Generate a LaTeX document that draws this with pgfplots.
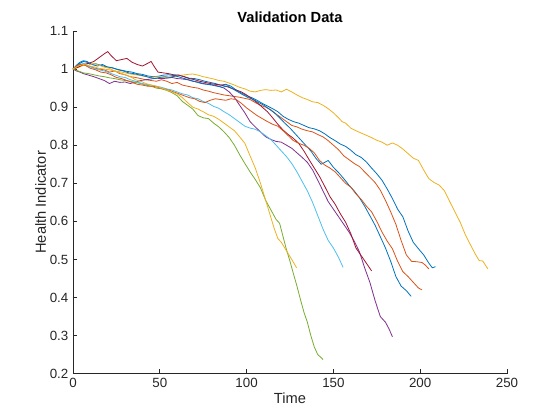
\documentclass[border=0pt]{standalone}
\usepackage{pgfplots}
\pgfplotsset{compat=1.18}
\usepackage{fontspec}
\setmainfont{Liberation Sans}
\usetikzlibrary{calc}
\definecolor{mB}{RGB}{0,114,189}
\definecolor{mO}{RGB}{217,83,25}
\definecolor{mY}{RGB}{237,177,32}
\definecolor{mP}{RGB}{126,47,142}
\definecolor{mG}{RGB}{119,172,48}
\definecolor{mL}{RGB}{77,190,238}
\definecolor{mR}{RGB}{162,20,47}
\definecolor{axgray}{RGB}{38,38,38}
\begin{document}
\begin{tikzpicture}
\begin{axis}[name=ax,
  scale only axis, width=325.5pt, height=257pt,
  xmin=0, xmax=250, ymin=0.2, ymax=1.1,
  xtick={0,50,...,250}, ytick={0.2,0.3,...,1.1},
  yticklabels={0.2,0.3,0.4,0.5,0.6,0.7,0.8,0.9,1,1.1},
  axis lines*=left, tick align=inside, major tick length=3.3pt,
  every outer x axis line/.append style={axgray},
  every outer y axis line/.append style={axgray},
  tick style={axgray, line width=0.5pt},
  axis line style={axgray, line width=0.5pt},
  ticklabel style={font=\fontsize{10}{12}\selectfont, text=axgray},
  /pgf/number format/assume math mode=true,
  xlabel={Time}, ylabel={Health Indicator},
  label style={font=\fontsize{11}{13}\selectfont, text=axgray},
  xlabel style={yshift=3pt}, ylabel style={yshift=-4pt},
  title={\textbf{Validation Data}},
  title style={font=\fontsize{11}{13}\selectfont, yshift=-3pt},
  every axis plot/.append style={line width=0.6pt, line join=round},
  clip=false,
]
\addplot[mB] coordinates {(0,1.000)(2,1.008)(4,1.015)(6,1.020)(8,1.018)(10,1.012)(13,1.014)(16,1.010)(19,1.006)(22,1.004)(25,1.000)(28,0.997)(31,0.994)(34,0.992)(37,0.988)(40,0.986)(43,0.982)(46,0.980)(49,0.981)(52,0.984)(55,0.985)(58,0.983)(61,0.984)(64,0.980)(67,0.976)(70,0.975)(73,0.972)(76,0.968)(79,0.965)(82,0.962)(85,0.958)(88,0.960)(91,0.955)(94,0.945)(97,0.937)(100,0.930)(103,0.925)(106,0.918)(109,0.910)(112,0.903)(115,0.896)(118,0.888)(121,0.876)(124,0.868)(127,0.862)(130,0.858)(133,0.852)(136,0.846)(139,0.843)(142,0.838)(145,0.830)(148,0.820)(151,0.812)(154,0.803)(157,0.797)(160,0.787)(163,0.775)(166,0.768)(169,0.756)(172,0.740)(175,0.725)(178,0.708)(181,0.685)(184,0.660)(187,0.632)(190,0.612)(193,0.575)(196,0.545)(199,0.528)(202,0.512)(205,0.490)(207,0.478)(208.8,0.481)};
\addplot[mO] coordinates {(0,1.000)(2,1.005)(4,1.010)(6,1.012)(9,1.008)(12,1.003)(15,1.000)(18,0.998)(21,0.992)(24,0.995)(27,0.988)(30,0.985)(33,0.980)(36,0.978)(39,0.975)(42,0.972)(45,0.970)(48,0.968)(51,0.972)(54,0.968)(57,0.962)(60,0.965)(63,0.958)(66,0.955)(69,0.952)(72,0.950)(75,0.945)(78,0.942)(81,0.938)(84,0.935)(87,0.932)(90,0.930)(93,0.928)(96,0.926)(99,0.923)(102,0.920)(105,0.912)(108,0.905)(111,0.900)(114,0.893)(117,0.882)(120,0.872)(123,0.862)(126,0.852)(129,0.848)(132,0.842)(135,0.838)(138,0.835)(141,0.828)(144,0.822)(147,0.812)(150,0.800)(153,0.788)(156,0.772)(159,0.762)(162,0.752)(165,0.744)(168,0.730)(171,0.716)(174,0.702)(177,0.682)(180,0.655)(183,0.625)(186,0.592)(189,0.550)(192,0.512)(195,0.495)(198,0.494)(201,0.492)(203,0.485)(205,0.475)};
\addplot[mY] coordinates {(0,1.000)(3,1.004)(6,1.010)(9,1.008)(12,1.006)(15,1.002)(18,1.000)(21,0.998)(24,0.995)(27,0.993)(30,0.990)(33,0.987)(36,0.985)(39,0.983)(42,0.980)(45,0.978)(48,0.980)(51,0.979)(54,0.978)(57,0.980)(60,0.981)(63,0.984)(66,0.986)(69,0.987)(72,0.984)(75,0.980)(78,0.977)(81,0.974)(84,0.970)(87,0.968)(90,0.963)(93,0.958)(96,0.952)(99,0.948)(102,0.942)(105,0.940)(108,0.944)(111,0.946)(114,0.944)(117,0.945)(120,0.940)(123,0.947)(126,0.940)(129,0.932)(132,0.925)(135,0.920)(138,0.914)(141,0.912)(144,0.905)(147,0.896)(150,0.885)(153,0.872)(155,0.862)(157,0.858)(160,0.845)(163,0.838)(166,0.832)(169,0.826)(172,0.820)(175,0.813)(178,0.808)(181,0.800)(184,0.806)(187,0.800)(190,0.790)(193,0.778)(196,0.766)(199,0.760)(202,0.735)(205,0.712)(208,0.702)(211,0.695)(214,0.680)(217,0.652)(220,0.625)(223,0.598)(226,0.565)(229,0.538)(232,0.512)(234,0.497)(236,0.496)(238,0.482)(239,0.475)};
\addplot[mP] coordinates {(0,1.000)(2,0.995)(4,0.992)(6,0.988)(9,0.984)(12,0.980)(15,0.975)(18,0.970)(21,0.962)(24,0.968)(27,0.965)(30,0.966)(33,0.962)(36,0.966)(39,0.970)(42,0.972)(45,0.974)(48,0.976)(51,0.975)(54,0.976)(57,0.978)(60,0.975)(63,0.974)(66,0.972)(69,0.968)(72,0.966)(75,0.962)(78,0.960)(81,0.958)(84,0.955)(87,0.950)(90,0.940)(93,0.925)(96,0.905)(99,0.885)(102,0.862)(105,0.848)(108,0.835)(111,0.822)(114,0.815)(117,0.810)(120,0.808)(123,0.800)(126,0.792)(129,0.780)(132,0.768)(135,0.755)(138,0.735)(141,0.708)(144,0.680)(147,0.652)(150,0.632)(153,0.612)(156,0.592)(159,0.572)(162,0.548)(165,0.520)(168,0.478)(171,0.440)(174,0.392)(177,0.350)(180,0.335)(182,0.318)(184,0.297)};
\addplot[mG] coordinates {(0,1.000)(3,0.995)(6,0.990)(9,0.988)(12,0.985)(15,0.982)(18,0.980)(21,0.977)(24,0.975)(27,0.972)(30,0.970)(33,0.968)(36,0.965)(39,0.962)(42,0.958)(45,0.955)(48,0.950)(51,0.948)(54,0.944)(57,0.938)(60,0.930)(63,0.915)(66,0.905)(69,0.895)(72,0.878)(75,0.872)(78,0.870)(81,0.858)(84,0.848)(87,0.835)(90,0.820)(93,0.800)(96,0.775)(99,0.752)(102,0.730)(105,0.710)(108,0.688)(111,0.655)(114,0.630)(117,0.605)(119,0.595)(121,0.560)(123,0.525)(125,0.495)(127,0.462)(129,0.430)(131,0.395)(133,0.362)(135,0.335)(137,0.300)(139,0.270)(141,0.250)(143,0.242)(144,0.237)};
\addplot[mL] coordinates {(0,1.000)(3,1.010)(6,1.015)(9,1.008)(12,1.002)(15,0.998)(18,0.995)(21,0.990)(24,0.985)(27,0.980)(30,0.978)(33,0.972)(36,0.968)(39,0.963)(42,0.960)(45,0.958)(48,0.955)(51,0.952)(54,0.948)(57,0.945)(60,0.940)(63,0.935)(66,0.932)(69,0.925)(72,0.922)(75,0.915)(78,0.910)(81,0.902)(84,0.897)(87,0.888)(90,0.880)(93,0.870)(96,0.860)(99,0.850)(102,0.845)(105,0.842)(108,0.835)(111,0.825)(114,0.815)(117,0.800)(120,0.785)(123,0.770)(126,0.752)(129,0.730)(132,0.705)(135,0.680)(138,0.650)(141,0.615)(144,0.580)(147,0.550)(150,0.530)(153,0.505)(155.6,0.479)};
\addplot[mR] coordinates {(0,1.000)(3,1.005)(6,1.012)(9,1.015)(12,1.020)(15,1.030)(18,1.040)(20,1.046)(22,1.035)(25,1.022)(28,1.025)(31,1.028)(34,1.018)(37,1.012)(40,1.008)(43,1.015)(45,1.020)(47,1.005)(49,0.992)(52,0.990)(55,0.988)(58,0.985)(61,0.984)(64,0.980)(67,0.975)(70,0.972)(73,0.968)(76,0.965)(79,0.962)(82,0.960)(85,0.958)(88,0.955)(91,0.950)(94,0.945)(97,0.940)(100,0.932)(103,0.922)(106,0.912)(109,0.900)(112,0.888)(115,0.872)(118,0.855)(121,0.840)(124,0.828)(127,0.818)(130,0.805)(133,0.785)(136,0.762)(139,0.740)(142,0.718)(145,0.692)(148,0.665)(151,0.645)(154,0.620)(157,0.598)(160,0.568)(163,0.530)(166,0.510)(169,0.490)(172,0.470)};
\addplot[mB] coordinates {(0,1.000)(2,1.010)(4,1.018)(6,1.022)(8,1.020)(11,1.012)(14,1.008)(17,1.012)(20,1.005)(23,1.003)(26,0.998)(29,0.995)(32,0.990)(35,0.988)(38,0.985)(41,0.982)(44,0.978)(47,0.975)(50,0.978)(53,0.980)(56,0.978)(59,0.982)(62,0.978)(65,0.974)(68,0.970)(71,0.966)(74,0.962)(77,0.960)(80,0.958)(83,0.955)(86,0.952)(89,0.956)(92,0.948)(95,0.940)(98,0.932)(101,0.925)(104,0.920)(107,0.912)(110,0.905)(113,0.895)(116,0.885)(119,0.872)(122,0.858)(125,0.845)(128,0.830)(131,0.815)(134,0.800)(137,0.785)(140,0.765)(143,0.750)(145,0.755)(147,0.760)(150,0.742)(153,0.728)(156,0.712)(159,0.695)(162,0.680)(165,0.662)(168,0.640)(171,0.615)(174,0.590)(177,0.560)(180,0.530)(183,0.495)(186,0.455)(189,0.430)(192,0.418)(194.8,0.403)};
\addplot[mO] coordinates {(0,1.000)(2,1.008)(4,1.012)(7,1.010)(10,1.002)(13,0.998)(16,0.992)(19,0.990)(22,0.985)(25,0.978)(28,0.975)(31,0.970)(34,0.965)(37,0.960)(40,0.958)(43,0.955)(46,0.955)(49,0.952)(52,0.948)(55,0.945)(58,0.940)(61,0.935)(64,0.930)(67,0.925)(70,0.922)(73,0.915)(76,0.912)(79,0.918)(82,0.922)(85,0.920)(88,0.918)(91,0.922)(94,0.920)(97,0.910)(100,0.898)(103,0.888)(106,0.878)(109,0.870)(112,0.862)(115,0.855)(118,0.850)(121,0.838)(124,0.825)(127,0.812)(130,0.805)(133,0.800)(136,0.792)(139,0.780)(142,0.760)(145,0.748)(148,0.740)(151,0.730)(154,0.715)(157,0.700)(160,0.690)(163,0.672)(166,0.658)(169,0.640)(172,0.625)(175,0.600)(178,0.572)(181,0.548)(184,0.528)(187,0.495)(190,0.468)(193,0.455)(196,0.440)(199,0.425)(201,0.420)};
\addplot[mY] coordinates {(0,1.000)(3,1.008)(6,1.012)(9,1.010)(12,1.015)(15,1.010)(18,1.005)(21,1.002)(24,0.995)(27,0.990)(30,0.985)(33,0.980)(36,0.972)(39,0.968)(42,0.962)(45,0.958)(48,0.955)(51,0.950)(54,0.945)(57,0.940)(60,0.935)(63,0.925)(66,0.912)(69,0.900)(72,0.895)(75,0.888)(78,0.880)(81,0.876)(84,0.868)(87,0.858)(90,0.848)(93,0.838)(96,0.822)(99,0.805)(102,0.772)(105,0.740)(108,0.700)(110,0.670)(112,0.640)(114,0.610)(116,0.580)(118,0.555)(120,0.545)(122,0.530)(124,0.515)(126,0.500)(128.8,0.478)};
\end{axis}
\pgfresetboundingbox
\path ($(ax.south west)+(-54.75pt,-34.5pt)$) rectangle ($(ax.north east)+(39.75pt,23.25pt)$);
\end{tikzpicture}
\end{document}
